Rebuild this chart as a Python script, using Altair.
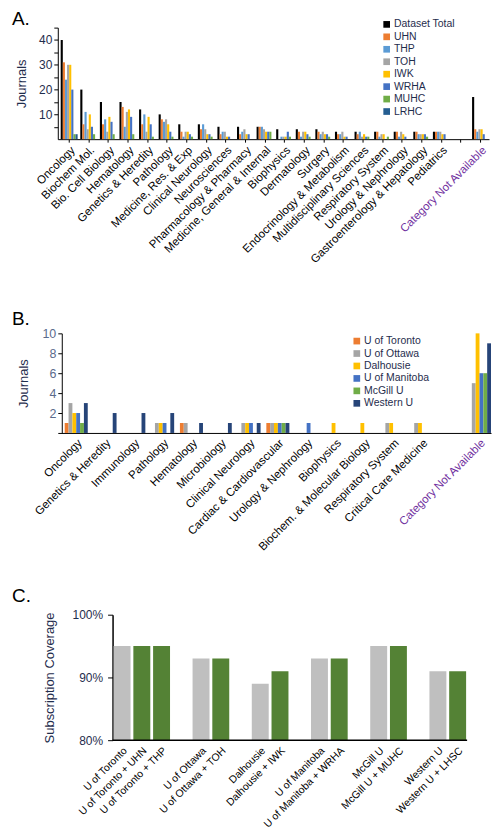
import altair as alt
import pandas as pd

FONT = "Liberation Sans"
NAVY = "#1F2D4D"
SLATE = "#5B6B8C"
PURPLE = "#7030A0"

# ---------------- Panel A ----------------
cats_a = ["Oncology", "Biochem Mol.", "Bio. Cell Biology", "Hematology",
          "Genetics & Heredity", "Pathology", "Medicine, Res. & Exp",
          "Clinical Neurology", "Neurosciences", "Pharmacology & Pharmacy",
          "Medicine, General & Internal", "Biophysics", "Dermatology", "Surgery",
          "Endocrinology & Metabolism", "Multidisciplinary Sciences",
          "Respiratory System", "Urology & Nephrology",
          "Gastroenterology & Hepatology", "Pediatrics", "Category Not Available"]
series_a = ["Dataset Total", "UHN", "THP", "TOH", "IWK", "WRHA", "MUHC", "LRHC"]
colors_a = ["#000000", "#ED7D31", "#5B9BD5", "#A5A5A5", "#FFC000", "#4472C4",
            "#70AD47", "#255E91"]
total = [40, 20, 15, 15, 12, 10, 6, 6, 5, 5, 5, 4, 4, 4, 3, 3, 3, 3, 3, 3, 17]
uhn = [31, 6, 6, 13, 6, 8, 3, 4, 2, 2, 5, 0, 3, 3, 2, 2, 3, 3, 3, 3, 4]
thp = [24, 11, 8, 5, 10, 7, 1, 6, 3, 3, 5, 1, 1, 2, 2, 3, 1, 1, 2, 3, 3]
toh = [30, 4, 3, 11, 3, 8, 3, 4, 3, 4, 4, 1, 3, 3, 3, 1, 2, 3, 2, 3, 4]
iwk = [30, 10, 9, 12, 9, 6, 3, 2, 1, 2, 3, 1, 3, 2, 1, 2, 2, 2, 2, 2, 4]
wrha = [20, 5, 7, 9, 6, 3, 2, 2, 1, 2, 3, 3, 2, 2, 1, 1, 0, 1, 2, 2, 2]
muhc = [2, 2, 2, 2, 1, 1, 1, 1, 0, 0, 3, 1, 1, 1, 0, 1, 1, 0, 1, 0, 0]
lrhc = [2, 0, 0, 0, 0, 0, 0, 0, 0, 0, 0, 0, 0, 0, 0, 0, 0, 0, 0, 0, 0]
vals_a = [total, uhn, thp, toh, iwk, wrha, muhc, lrhc]

# ---------------- Panel B ----------------
cats_b = ["Oncology", "Genetics & Heredity", "Immunology", "Pathology",
          "Hematology", "Microbiology", "Clinical Neurology",
          "Cardiac & Cardiovascular", "Urology & Nephrology", "Biophysics",
          "Biochem. & Molecular Biology", "Respiratory System",
          "Critical Care Medicine", "Category Not Available"]
series_b = ["U of Toronto", "U of Ottawa", "Dalhousie", "U of Manitoba",
            "McGill U", "Western U"]
colors_b = ["#ED7D31", "#A5A5A5", "#FFC000", "#4472C4", "#70AD47", "#264478"]
toronto = [1, 0, 0, 0, 1, 0, 0, 1, 0, 0, 0, 0, 0, 0]
ottawa = [3, 0, 0, 1, 1, 0, 1, 1, 0, 0, 0, 1, 1, 5]
dalhousie = [2, 0, 0, 1, 0, 0, 1, 1, 0, 1, 1, 1, 1, 10]
manitoba = [2, 0, 0, 1, 0, 0, 1, 1, 1, 0, 0, 0, 0, 6]
mcgill = [1, 0, 0, 0, 0, 0, 0, 1, 0, 0, 0, 0, 0, 6]
western = [3, 2, 2, 2, 1, 1, 1, 1, 0, 0, 0, 0, 0, 9]
vals_b = [toronto, ottawa, dalhousie, manitoba, mcgill, western]

# ---------------- Panel C ----------------
labels_c = ["U of Toronto", "U of Toronto + UHN", "U of Toronto + THP",
            "U of Ottawa", "U of Ottawa + TOH", "Dalhousie", "Dalhousie + IWK",
            "U of Manitoba", "U of Manitoba + WRHA", "McGill U",
            "McGill U + MUHC", "Western U", "Western U + LHSC"]
coverage_c = [95, 95, 95, 93, 93, 89, 91, 93, 93, 95, 95, 91, 91]
kind_c = ["University", "Combined", "Combined", "University", "Combined",
          "University", "Combined", "University", "Combined", "University",
          "Combined", "University", "Combined"]
group_sizes_c = [3, 2, 2, 2, 2, 2]

# ---------------- build tables ----------------
df_a = pd.DataFrame([{"cat": c, "series": s, "value": v}
                     for s, vals in zip(series_a, vals_a)
                     for c, v in zip(cats_a, vals)])
domain_a = cats_a[:-1] + [" "] + cats_a[-1:]

df_b = pd.DataFrame([{"cat": c, "series": s, "value": v}
                     for s, vals in zip(series_b, vals_b)
                     for c, v in zip(cats_b, vals)])
domain_b = cats_b[:-1] + [" "] + cats_b[-1:]

df_c = pd.DataFrame({"label": labels_c, "coverage": coverage_c, "kind": kind_c})
domain_c = [" " * 7, " " * 6]  # empty room left of the y axis
idx = 0
for gi, n in enumerate(group_sizes_c):
    if gi > 0:
        domain_c.append(" " * gi)
    domain_c.extend(labels_c[idx:idx + n])
    idx += n

purple_cond = {"condition": {"test": "datum.value === 'Category Not Available'",
                             "value": PURPLE}, "value": "#000000"}


def letter(t, y):
    return alt.Chart(pd.DataFrame({"t": [t]})).mark_text(
        fontSize=19, align="left", baseline="alphabetic", color="#000000"
    ).encode(text="t:N", x=alt.value(-46), y=alt.value(y))


def legend(x, y):
    return alt.Legend(title=None, orient="none", legendX=x, legendY=y,
                      symbolType="square", symbolSize=45, symbolStrokeWidth=0,
                      labelFontSize=10.5, labelColor=NAVY, rowPadding=1.5,
                      labelOffset=2, padding=0)


bars_a = alt.Chart(df_a).mark_bar().encode(
    x=alt.X("cat:N", sort=domain_a,
            scale=alt.Scale(domain=domain_a, paddingInner=0.135,
                            paddingOuter=0.074, align=1),
            axis=alt.Axis(title=None, labelAngle=-45, labelFontSize=11.5,
                          labelColor=purple_cond, tickSize=3, labelPadding=2,
                          domainColor="#000", tickColor="#000", labelOverlap=False)),
    xOffset=alt.XOffset("series:N", sort=series_a,
                        scale=alt.Scale(domain=series_a, paddingInner=0, paddingOuter=0)),
    y=alt.Y("value:Q", scale=alt.Scale(domain=[0, 45], nice=False),
            axis=alt.Axis(title="Journals", values=list(range(5, 50, 5)),
                          labelExpr="datum.value % 10 === 0 ? datum.label : ''",
                          grid=False, tickSize=4, labelFontSize=12, labelColor=NAVY,
                          titleFontSize=13, titleFontWeight="normal", titleColor=NAVY,
                          titlePadding=10, domainColor="#000", tickColor="#000")),
    color=alt.Color("series:N", scale=alt.Scale(domain=series_a, range=colors_a),
                    legend=legend(325, -8.5)),
)
chart_a = alt.layer(bars_a, letter("A.", -2.5)).properties(width=433, height=112)

bars_b = alt.Chart(df_b).mark_bar().encode(
    x=alt.X("cat:N", sort=domain_b,
            scale=alt.Scale(domain=domain_b, paddingInner=0.2,
                            paddingOuter=0.12, align=1),
            axis=alt.Axis(title=None, labelAngle=-45, labelFontSize=11.5,
                          labelColor=purple_cond, tickSize=0, labelPadding=4,
                          domainColor="#000", labelOverlap=False)),
    xOffset=alt.XOffset("series:N", sort=series_b,
                        scale=alt.Scale(domain=series_b, paddingInner=0, paddingOuter=0)),
    y=alt.Y("value:Q", scale=alt.Scale(domain=[0, 10], nice=False),
            axis=alt.Axis(title="Journals", values=[2, 4, 6, 8, 10], grid=False,
                          tickSize=4, labelFontSize=12.5, labelColor=SLATE,
                          titleFontSize=13, titleFontWeight="normal", titleColor=NAVY,
                          titlePadding=12, domainColor="#000", tickColor="#000",
                          offset=-4)),
    color=alt.Color("series:N", scale=alt.Scale(domain=series_b, range=colors_b),
                    legend=legend(295, 2.5)),
)
chart_b = alt.layer(bars_b, letter("B.", -8.5)).properties(width=435, height=100)

bars_c = alt.Chart(df_c).mark_bar().encode(
    x=alt.X("label:N", sort=domain_c,
            scale=alt.Scale(domain=domain_c, paddingInner=0.142,
                            paddingOuter=0.414, align=1),
            axis=alt.Axis(title=None, labelAngle=-45, labelFontSize=10.5,
                          labelColor="#000", tickSize=0, labelPadding=5,
                          domain=False, labelOverlap=False)),
    y=alt.Y("coverage:Q", scale=alt.Scale(domain=[80, 100], nice=False, zero=False),
            axis=alt.Axis(title="Subscription Coverage", values=[80, 90, 100],
                          labelExpr="datum.value + '%'", grid=False, tickSize=5,
                          labelPadding=5, labelFontSize=12, labelColor=NAVY,
                          titleFontSize=13, titleFontWeight="normal", titleColor=NAVY,
                          titlePadding=16, domainColor="#000", domainWidth=1.5,
                          tickColor="#000", offset=-55)),
    y2=alt.datum(80),
    color=alt.Color("kind:N", scale=alt.Scale(domain=["University", "Combined"],
                                              range=["#BFBFBF", "#548235"]),
                    legend=None),
)
baseline_c = alt.Chart(pd.DataFrame({"v": [80]})).mark_rule(
    color="#000", strokeWidth=1.5
).encode(y="v:Q", x=alt.value(55), x2=alt.value(411))
chart_c = alt.layer(bars_c, baseline_c, letter("C.", -13)).properties(width=410, height=126)

top = alt.vconcat(chart_a, chart_b, spacing=44).resolve_scale(
    color="independent", x="independent", y="independent", xOffset="independent"
)
chart = alt.vconcat(top, chart_c, spacing=33.5).resolve_scale(
    color="independent", x="independent", y="independent", xOffset="independent"
).properties(
    padding={"left": 4, "top": 0, "right": 2, "bottom": 2}
).configure(font=FONT).configure_view(stroke=None)

chart.save("out.html", embed_options={"renderer": "svg", "actions": False})
